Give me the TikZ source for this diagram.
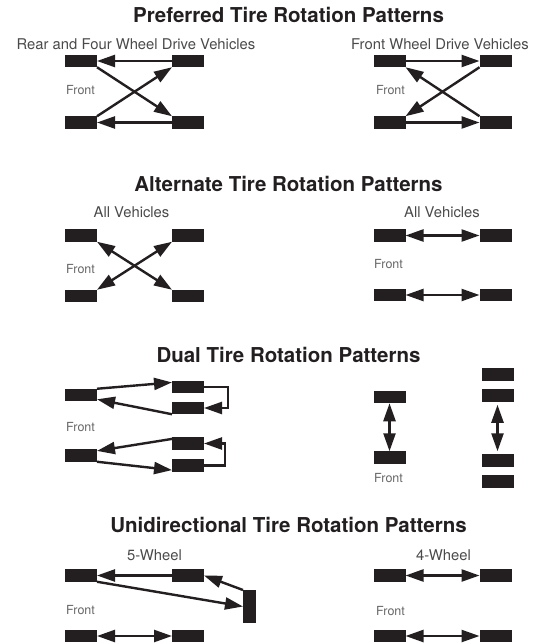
\documentclass[tikz,border=0pt]{standalone}
\usepackage{fontspec}
\setmainfont{TeX Gyre Heros}
\usetikzlibrary{arrows.meta,positioning}
\definecolor{tireblack}{HTML}{231F20}
\definecolor{labelgray}{HTML}{4A4A4A}

\begin{document}
\begin{tikzpicture}[x=1pt,y=-1pt,color=tireblack,>={Triangle[length=18pt,width=12pt]},line width=2.4pt,
    tire/.style={rectangle,fill=tireblack,inner sep=0pt,outer sep=0pt,minimum width=32pt,minimum height=12.5pt},
    spare tire/.style={tire,minimum width=13pt,minimum height=33pt},
    heading/.style={anchor=base,inner sep=0pt,text=tireblack,font=\bfseries\fontsize{20.5}{24}\selectfont},
    vehicle/.style={anchor=base,inner sep=0pt,text=labelgray,font=\fontsize{14.8}{18}\selectfont},
    front label/.style={anchor=base west,inner sep=0pt,text=black!60,font=\fontsize{12.5}{15}\selectfont}]
    \useasboundingbox (0,0) rectangle (546,644);

    % preferred
    \node[heading] (title1) at (288.5,23) {Preferred Tire Rotation Patterns};
    \node[vehicle] (sub1) at (136,50) {Rear and Four Wheel Drive Vehicles};
    \node[vehicle] (sub2) at (440,50) {Front Wheel Drive Vehicles};
    \node[front label] (front1) at (65,95) {Front};
    \node[front label] (front2) at (375,95) {Front};

    \node[tire] (a1) at (81,61) {};
    \node[tire] (a2) [right=75pt of a1] {};
    \node[tire] (a3) [below=49pt of a1] {};
    \node[tire] (a4) [below=49pt of a2] {};

    \node[tire] (b1) at (389.5,61) {};
    \node[tire] (b2) [right=74pt of b1] {};
    \node[tire] (b3) [below=49pt of b1] {};
    \node[tire] (b4) [below=49pt of b2] {};

    \path[->]
        (a2) edge (a1)
        (a4) edge (a3)
        (a1.south east) edge (a4.north west)
        (a3.north east) edge (a2.south west)
        (b1) edge (b2)
        (b3) edge (b4)
        (b2.south west) edge (b3.north east)
        (b4.north west) edge (b1.south east)
        ;

    % alternate
    \node[heading] (title2) at (288.5,192) {Alternate Tire Rotation Patterns};
    \node[vehicle] (sub3) at (131.5,217) {All Vehicles};
    \node[vehicle] (sub4) at (442,217) {All Vehicles};
    \node[front label] (front3) at (65,273) {Front};
    \node[front label] (front4) at (373,268) {Front};

    \node[tire] (c1) at (81,235.5) {};
    \node[tire] (c2) [right=75pt of c1] {};
    \node[tire] (c3) [below=48pt of c1] {};
    \node[tire] (c4) [below=48pt of c2] {};

    \node[tire] (d1) at (389.5,235.5) {};
    \node[tire] (d2) [right=74pt of d1] {};
    \node[tire] (d3) [below=47pt of d1] {};
    \node[tire] (d4) [below=47pt of d2] {};

    \path[<->]
        (c1.south east) edge (c4.north west)
        (c3.north east) edge (c2.south west)
        (d1) edge (d2)
        (d3) edge (d4)
        ;

    % dual
    \node[heading] (title3) at (288.5,362) {Dual Tire Rotation Patterns};
    \node[front label] (front5) at (65,431) {Front};
    \node[front label] (front6) at (373,482) {Front};

    \node[tire] (e1) at (81,395) {};
    \node[tire] (e2) at (188,387) {};
    \node[tire] (e3) [below=8.5pt of e2] {};
    \node[tire] (e4) at (81,455.5) {};
    \node[tire] (e5) at (188,443.5) {};
    \node[tire] (e6) [below=9.5pt of e5] {};

    \node[tire] (f1) at (389.5,397) {};
    \node[tire] (f2) [below=48pt of f1] {};

    \node[tire] (g1) at (497.5,374.5) {};
    \node[tire] (g2) [below=8.5pt of g1] {};
    \node[tire] (g3) [below=52.5pt of g2] {};
    \node[tire] (g4) [below=8.5pt of g3] {};

    \path[->]
        (e1.north east) edge (e2.164)
        (e3.south west) edge (e1.-15)
        (e5.164) edge (e4.16)
        (e4.south east) edge (e6.196)
        ;
    \draw[->] (e2.east) -- ++(24pt,0) |- (e3.east);
    \draw[->] (e6.east) -- ++(21pt,0) |- (e5.east);
    \path[<->]
        (f1) edge (f2)
        (g2) edge[shorten <=3pt,shorten >=3pt] (g3)
        ;

    % unidirectional
    \node[heading] (title4) at (288.5,532) {Unidirectional Tire Rotation Patterns};
    \node[vehicle] (sub5) at (154.5,560) {5-Wheel};
    \node[vehicle] (sub6) at (443.5,560) {4-Wheel};
    \node[front label] (front7) at (65,614) {Front};
    \node[front label] (front8) at (375,615) {Front};

    \node[tire] (h1) at (81,575.5) {};
    \node[tire] (h2) [right=75pt of h1] {};
    \node[tire] (h3) [below=48pt of h1] {};
    \node[tire] (h4) [below=48pt of h2] {};
    \node[spare tire] (h5) at (249.5,606.5) {};

    \node[tire] (k1) at (389.5,575.5) {};
    \node[tire] (k2) [right=74pt of k1] {};
    \node[tire] (k3) [below=48pt of k1] {};
    \node[tire] (k4) [below=48pt of k2] {};

    \path[->]
        (h2) edge (h1)
        (h1.south east) edge (h5.west)
        (h5.north west) edge (h2.east)
        ;
    \path[<->]
        (h3) edge (h4)
        (k1) edge (k2)
        (k3) edge (k4)
        ;
\end{tikzpicture}
\end{document}
